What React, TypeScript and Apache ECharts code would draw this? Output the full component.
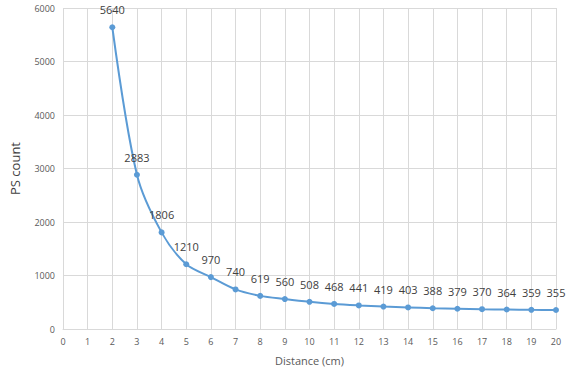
import React, { useEffect, useRef } from "react";
import * as echarts from "echarts";

const distances = [2, 3, 4, 5, 6, 7, 8, 9, 10, 11, 12, 13, 14, 15, 16, 17, 18, 19, 20];
const psCounts = [5640, 2883, 1806, 1210, 970, 740, 619, 560, 508, 468, 441, 419, 403, 388, 379, 370, 364, 359, 355];

export default function App() {
  const ref = useRef<HTMLDivElement>(null);
  useEffect(() => {
    if (!ref.current) return;
    const chart = echarts.init(ref.current, null, { renderer: "svg" });
    const font = "'Open Sans', 'Noto Sans', sans-serif";
    chart.setOption({
      animation: false,
      grid: { left: 58, right: 11, top: 8, bottom: 40 },
      xAxis: {
        type: "value",
        min: 0,
        max: 20,
        interval: 1,
        name: "Distance (cm)",
        nameLocation: "middle",
        nameGap: 26,
        nameTextStyle: { fontFamily: font, fontSize: 11, color: "#595959" },
        axisLine: { show: true, lineStyle: { color: "#D9D9D9", width: 1 } },
        axisTick: { show: false },
        axisLabel: { fontFamily: font, fontSize: 9, color: "#595959", margin: 8 },
        splitLine: { show: true, lineStyle: { color: "#D9D9D9", width: 1 } },
      },
      yAxis: {
        type: "value",
        min: 0,
        max: 6000,
        interval: 1000,
        name: "PS count",
        nameLocation: "middle",
        nameGap: 42,
        nameTextStyle: { fontFamily: font, fontSize: 13, color: "#404040" },
        axisLine: { show: false },
        axisTick: { show: false },
        axisLabel: {
          fontFamily: font,
          fontSize: 9,
          color: "#595959",
          margin: 8,
          formatter: (v: number) => String(v),
        },
        splitLine: { show: true, lineStyle: { color: "#D9D9D9", width: 1 } },
      },
      series: [
        {
          type: "line",
          data: distances.map((d, i) => [d, psCounts[i]]),
          smooth: 0.3,
          symbol: "circle",
          symbolSize: 6,
          lineStyle: { color: "#5B9BD5", width: 2 },
          itemStyle: { color: "#5B9BD5" },
          label: {
            show: true,
            position: "top",
            distance: 9,
            fontFamily: font,
            fontSize: 11,
            color: "#404040",
            formatter: (p: any) => String(p.value[1]),
          },
        },
      ],
    });
    return () => chart.dispose();
  }, []);
  return <div ref={ref} style={{ width: 567, height: 371, position: "absolute", left: 0, top: 0, background: "#fff" }} />;
}
